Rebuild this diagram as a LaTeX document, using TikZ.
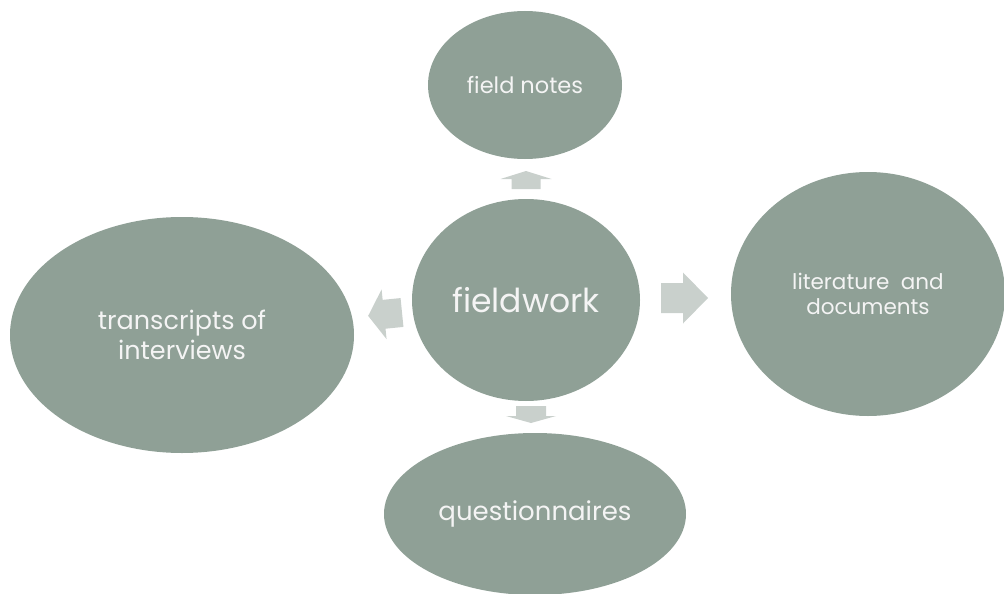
\documentclass[tikz,border=0pt]{standalone}
\usepackage{fontspec}
\setmainfont{Poppins}
\usetikzlibrary{shapes.geometric}
\definecolor{bubble}{HTML}{8FA096}
\definecolor{arrowfill}{HTML}{C9D0CC}
\definecolor{labeltext}{HTML}{F4F4F4}
\newcommand{\blockarrow}[7]{% tail x, tail y, angle, length, head length, head half-width, shaft half-width
  \fill[arrowfill, shift={(#1,#2)}, rotate=#3]
    (0,-#7) -- (#4-#5,-#7) -- (#4-#5,-#6) -- (#4,0) -- (#4-#5,#6) -- (#4-#5,#7) -- (0,#7) -- cycle;}
\begin{document}
\begin{tikzpicture}[x=1pt,y=-1pt,
  bubblenode/.style={ellipse, fill=bubble, text=labeltext, align=center, inner sep=0pt},
]
\useasboundingbox (0,0) rectangle (1004,594);
% bubbles
\node[bubblenode, minimum width=194, minimum height=148, font=\fontsize{22.5}{26}\selectfont] (notes) at (525,85) {field notes};
\node[bubblenode, minimum width=228, minimum height=202, font=\fontsize{33}{38}\selectfont] (fieldwork) at (526,300) {fieldwork};
\node[bubblenode, minimum width=274, minimum height=244, font=\fontsize{21.5}{25}\selectfont] (lit) at (868,294) {literature\ \ and\\documents};
\node[bubblenode, minimum width=344, minimum height=236, font=\fontsize{25.5}{30}\selectfont] (trans) at (182,335) {transcripts of\\interviews};
\node[bubblenode, minimum width=302, minimum height=162, font=\fontsize{26}{30}\selectfont] (quest) at (535,514) {questionnaires};
% block arrows from the centre outwards
\blockarrow{526}{189}{90}{18}{8}{25.5}{14.5}
\blockarrow{661}{298}{0}{47}{25}{25.5}{15}
\blockarrow{402}{312.5}{185.7}{34}{16}{25}{14.5}
\blockarrow{531}{406}{270}{17}{7}{25}{15}
\end{tikzpicture}
\end{document}
